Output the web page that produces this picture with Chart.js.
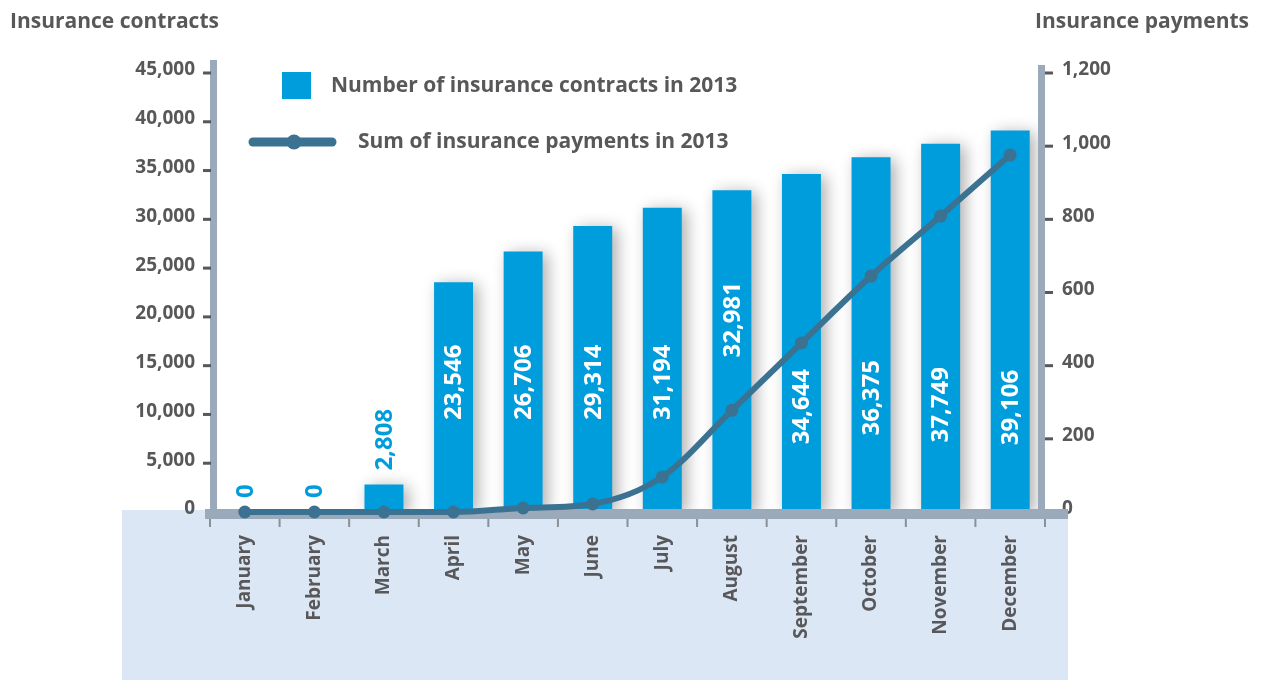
<!DOCTYPE html>
<html><head><meta charset="utf-8">
<script src="https://cdn.jsdelivr.net/npm/chart.js@4.4.1/dist/chart.umd.min.js"></script>
<style>html,body{margin:0;padding:0;background:#fff;overflow:hidden}canvas{display:block}</style>
</head><body>
<canvas id="c" width="1267" height="680"></canvas>
<script>
// ---- data ----
const months = ['January','February','March','April','May','June','July','August','September','October','November','December'];
const contracts = [0, 0, 2808, 23546, 26706, 29314, 31194, 32981, 34644, 36375, 37749, 39106];
const payments = [0, 0, 0, 0, 11, 22, 96, 278, 462, 645, 809, 976];
const contractsLabel = 'Number of insurance contracts in 2013';
const paymentsLabel = 'Sum of insurance payments in 2013';
const leftTitle = 'Insurance contracts';
const rightTitle = 'Insurance payments';
const contractsMax = 45000, contractsStep = 5000;
const paymentsMax = 1200, paymentsStep = 200;

// ---- style ----
const FONT = '"Open Sans", "Noto Sans", sans-serif';
const BLUE = '#009ddc', LINE = '#3b7292', AXIS = '#9aaaba', TEXT = '#58585a', BAND = '#dbe7f4';
// centre (in contracts units) of the in-bar value labels
const insideLabelAt = [0, 0, 0, 13300, 13300, 13300, 13300, 19700, 10800, 11700, 11000, 10700];

const decor = {
  id: 'decor',
  beforeDraw(chart) {
    const ctx = chart.ctx, ca = chart.chartArea;
    ctx.save();
    ctx.fillStyle = '#fff'; ctx.fillRect(0, 0, chart.width, chart.height);
    ctx.fillStyle = BAND; ctx.fillRect(122, ca.bottom - 2, 1068 - 122, chart.height - ca.bottom + 2);
    ctx.fillStyle = TEXT; ctx.font = 'bold 21px ' + FONT; ctx.textBaseline = 'alphabetic';
    ctx.textAlign = 'left'; ctx.fillText(leftTitle, 10, 28);
    ctx.textAlign = 'right'; ctx.fillText(rightTitle, 1249, 28);
    // legend
    ctx.fillStyle = BLUE; ctx.fillRect(282, 72, 29, 27);
    ctx.strokeStyle = LINE; ctx.lineWidth = 9; ctx.lineCap = 'round';
    ctx.beginPath(); ctx.moveTo(253, 142); ctx.lineTo(332, 142); ctx.stroke();
    ctx.fillStyle = LINE; ctx.beginPath(); ctx.arc(294, 142, 7.5, 0, Math.PI * 2); ctx.fill();
    ctx.fillStyle = TEXT; ctx.textAlign = 'left';
    ctx.fillText(chart.data.datasets[1].label, 331, 92);
    ctx.fillText(chart.data.datasets[0].label, 358, 148);
    ctx.restore();
  },
  beforeDatasetDraw(chart, args) {
    if (args.meta.type !== 'bar') return;
    const ctx = chart.ctx;
    ctx.save();
    ctx.shadowColor = 'rgba(0,0,0,0.32)';
    ctx.shadowBlur = 16; ctx.shadowOffsetX = 5; ctx.shadowOffsetY = 2;
  },
  afterDatasetDraw(chart, args) {
    if (args.meta.type !== 'bar') return;
    const ctx = chart.ctx, ca = chart.chartArea;
    ctx.restore();
    ctx.save();
    // axes
    ctx.fillStyle = AXIS;
    ctx.fillRect(ca.left, 60, 7, ca.bottom - 60);
    ctx.fillRect(ca.right - 7, 65, 7, ca.bottom - 65);
    ctx.fillRect(205, ca.bottom - 3, 1068 - 205, 10);
    ctx.fillStyle = TEXT;
    const yl = chart.scales.y, yr = chart.scales.y1;
    yl.ticks.forEach(t => { if (t.value > 0) { const y = yl.getPixelForValue(t.value); ctx.fillRect(203, y - 1.5, 8, 3); } });
    yr.ticks.forEach(t => { if (t.value > 0) { const y = yr.getPixelForValue(t.value); ctx.fillRect(ca.right, y - 1.5, 8, 3); } });
    ctx.fillStyle = '#8c8f93';
    const n = chart.data.labels.length, w = ca.width / n;
    for (let i = 0; i <= n; i++) { const x = ca.left + i * w; ctx.fillRect(x - 1, ca.bottom + 7, 2, 8); }
    // value labels
    const ds = chart.data.datasets[args.index];
    ctx.font = 'bold 24px ' + FONT; ctx.textBaseline = 'middle';
    args.meta.data.forEach((el, i) => {
      const v = ds.data[i];
      const txt = v.toLocaleString('en-US');
      ctx.save();
      if (v < 5000) {
        ctx.translate(el.x, el.y - 14); ctx.rotate(-Math.PI / 2);
        ctx.textAlign = 'left'; ctx.fillStyle = BLUE;
      } else {
        ctx.translate(el.x, yl.getPixelForValue(insideLabelAt[i])); ctx.rotate(-Math.PI / 2);
        ctx.textAlign = 'center'; ctx.fillStyle = '#fff';
      }
      ctx.fillText(txt, 0, 1);
      ctx.restore();
    });
    ctx.restore();
  }
};

new Chart(document.getElementById('c'), {
  type: 'bar',
  data: {
    labels: months,
    datasets: [
      { type: 'line', label: paymentsLabel, data: payments, yAxisID: 'y1', order: 0,
        borderColor: LINE, backgroundColor: LINE, borderWidth: 6, pointRadius: 6.5,
        pointBackgroundColor: LINE, pointBorderWidth: 0, cubicInterpolationMode: 'monotone', clip: false },
      { type: 'bar', label: contractsLabel, data: contracts, yAxisID: 'y', order: 1,
        backgroundColor: BLUE, barPercentage: 0.56, categoryPercentage: 1 }
    ]
  },
  options: {
    responsive: false, animation: false, devicePixelRatio: 1,
    layout: { padding: { top: 73, left: 0, right: 0, bottom: 0 } },
    plugins: { legend: { display: false }, tooltip: { enabled: false } },
    scales: {
      x: { grid: { display: false, drawTicks: false }, border: { display: false },
           ticks: { autoSkip: false, maxRotation: 90, minRotation: 90, padding: 23, color: TEXT,
                    font: { family: FONT, size: 19, weight: 'bold' } },
           afterFit(s) { s.height = 168; } },
      y: { type: 'linear', position: 'left', min: 0, max: contractsMax,
           grid: { display: false, drawTicks: false }, border: { display: false },
           ticks: { stepSize: contractsStep, padding: 15, labelOffset: -3, color: TEXT,
                    font: { family: FONT, size: 19, weight: 'bold' } },
           afterFit(s) { s.width = 210; } },
      y1: { type: 'linear', position: 'right', min: 0, max: paymentsMax,
           grid: { display: false, drawTicks: false }, border: { display: false },
           ticks: { stepSize: paymentsStep, padding: 17, labelOffset: -3, color: TEXT,
                    font: { family: FONT, size: 19, weight: 'bold' } },
           afterFit(s) { s.width = 222; } }
    }
  },
  plugins: [decor]
});
</script>
</body></html>
